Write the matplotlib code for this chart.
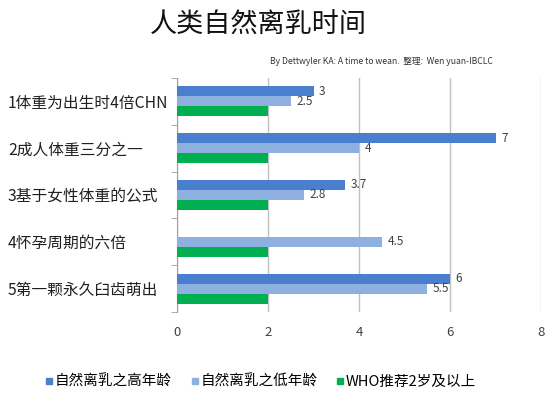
import numpy as np
import matplotlib
matplotlib.use("Agg")
import matplotlib.pyplot as plt
from matplotlib.lines import Line2D

plt.rcParams['font.family'] = ['Noto Sans CJK SC', 'DejaVu Sans']

# data
categories = ["1体重为出生时4倍CHN", "2成人体重三分之一", "3基于女性体重的公式",
              "4怀孕周期的六倍", "5第一颗永久臼齿萌出"]
high_age = [3, 7, 3.7, np.nan, 6]
low_age = [2.5, 4, 2.8, 4.5, 5.5]
who_age = [2, 2, 2, 2, 2]
series_names = ["自然离乳之高年龄", "自然离乳之低年龄", "WHO推荐2岁及以上"]
colors = ["#4a7fcf", "#8db0e0", "#00b050"]

W, H = 555, 398
fig = plt.figure(figsize=(W / 100, H / 100), dpi=100)
ax = fig.add_axes([177 / W, 1 - 312 / H, (541 - 177) / W, (312 - 78) / H])

y = np.arange(len(categories))
h = 0.214
for vals, off, c in zip([high_age, low_age, who_age], [-h, 0, h], colors):
    ax.barh(y + off, vals, height=h, color=c, zorder=3)

# value labels (not for WHO series)
for vals, off in zip([high_age, low_age], [-h, 0]):
    for yi, v in zip(y, vals):
        if np.isnan(v):
            continue
        ax.annotate(f"{v:g}", (v, yi + off), xytext=(4, 0), textcoords="offset points",
                    va="center", ha="left", fontsize=8.5, color="#404040")

ax.set_xlim(0, 8)
ax.set_xticks([0, 2, 4, 6, 8])
ax.set_ylim(len(categories) - 0.5, -0.5)
ax.grid(axis="x", color="#c0c0c0", linewidth=1, zorder=0)
for s in ["top", "right", "bottom"]:
    ax.spines[s].set_visible(False)
ax.spines["left"].set_color("#a0a0a0")
ax.tick_params(axis="x", length=0, labelsize=9.5, colors="#404040", pad=10)

ax.set_yticks(y)
ax.set_yticks(np.arange(-0.5, len(categories)), minor=True)
ax.tick_params(axis="y", which="major", length=0, pad=(177 - 8) * 0.72, labelsize=11.3)
ax.tick_params(axis="y", which="minor", length=4, color="#a0a0a0")
ax.set_yticklabels(categories, ha="left", color="#202020")

fig.text(258 / W, 1 - 25 / H, "人类自然离乳时间", fontsize=19.5, ha="center", va="center", color="#111111")
fig.text(493 / W, 1 - 61 / H, "By Dettwyler KA: A time to wean.  整理:  Wen yuan-IBCLC",
         fontsize=6.2, ha="right", va="center", color="#333333")

handles = [Line2D([], [], marker="s", linestyle="none", markersize=4.5, color=c) for c in colors]
fig.legend(handles, series_names, loc="center", bbox_to_anchor=(260 / W, 1 - 382 / H),
           ncol=3, frameon=False, fontsize=10.5, handletextpad=0.05, columnspacing=1.2,
           handlelength=0.7)

fig.savefig("out.png", dpi=100)
